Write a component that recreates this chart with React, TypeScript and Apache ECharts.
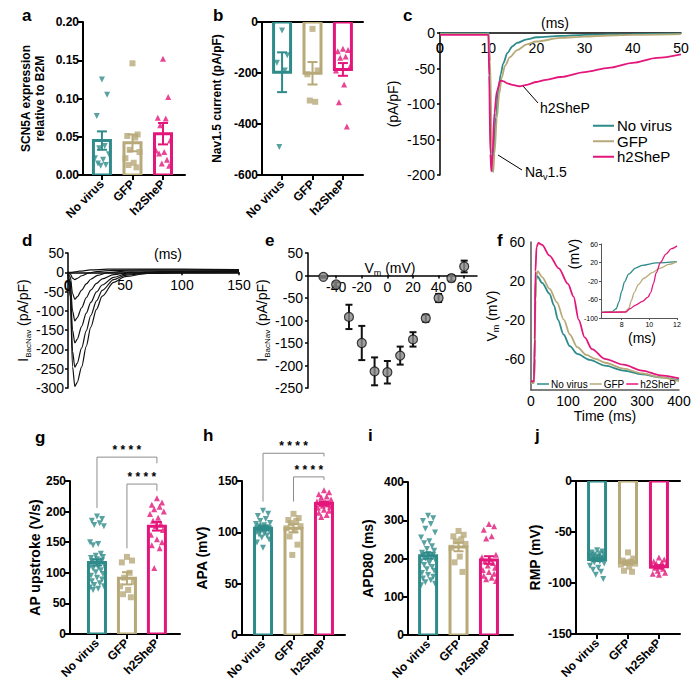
import React, { useEffect, useRef } from "react";
import * as echarts from "echarts";

const GROUPS = ["No virus", "GFP", "h2SheP"];
const COLORS = ["#2e8b89", "#b8a979", "#e3177b"];
const SYMBOLS = ["triangle", "rect", "triangle"];
const SYMBOL_ROTATE = [180, 0, 0];
const FONT = "'Liberation Sans', Arial, Helvetica, sans-serif";
const JITTER = [0, 0.17, -0.17, 0.09, -0.09, 0.23, -0.23, 0.04, -0.13, 0.13, -0.04, 0.2, -0.2];

// ---- panel a: SCN5A expression relative to B2M
const A_NOVIRUS = [0.125, 0.105, 0.077, 0.038, 0.035, 0.027, 0.022, 0.02, 0.015, 0.013, 0.012];
const A_GFP = [0.146, 0.053, 0.051, 0.049, 0.033, 0.03, 0.022, 0.016, 0.013, 0.01];
const A_H2SHEP = [0.152, 0.102, 0.075, 0.074, 0.065, 0.045, 0.032, 0.03, 0.028, 0.02, 0.015, 0.012];
const A_MEAN = [0.045, 0.042, 0.054];
const A_SEM = [0.012, 0.011, 0.014];

// ---- panel b: Nav1.5 current (pA/pF)
const B_NOVIRUS = [-33, -130, -160, -190, -490];
const B_GFP = [-27, -190, -205, -313, -308];
const B_H2SHEP = [-105, -110, -115, -135, -140, -175, -190, -245, -315, -410];
const B_MEAN = [-197, -201, -186];
const B_SEM = [78, 44, 25];

// ---- panel c: current traces (time ms, pA/pF)
const C_NOVIRUS = [[0, -0.5], [9.9, -0.5], [10.05, 3], [10.25, -40], [10.55, -170], [10.85, -195], [11.1, -170], [11.6, -118], [12.1, -80], [12.6, -58], [13.1, -43], [14, -28], [15, -19], [16, -14], [18, -9], [20, -6], [25, -4], [30, -2.5], [40, -1.5], [50, -1]];
const C_GFP = [[0, -1.5], [10.1, -1.5], [10.4, -40], [10.75, -160], [11.05, -196], [11.3, -170], [11.8, -120], [12.3, -85], [12.8, -63], [13.5, -46], [14.5, -34], [16, -24], [18, -16], [20, -12], [25, -7], [30, -5], [35, -3.5], [40, -2.5], [50, -1.5]];
const C_H2SHEP = [[0, -2.5], [10.05, -2.5], [10.2, -60], [10.45, -170], [10.65, -195], [10.9, -170], [11.3, -112], [11.8, -82], [12.5, -67], [13.2, -68], [14, -71], [15, -73], [16.5, -75], [18, -73], [20, -69], [22, -66], [25, -62], [30, -55], [35, -49], [40, -42], [45, -35], [50, -30]];
const C_XTICKS = [0, 10, 20, 30, 40, 50];

// ---- panel d: BacNav current family (time ms, pA/pF)
const D_TRACES = [
  [[0, 0], [3, 0], [6, 1], [10, 3], [20, 6], [35, 8], [60, 8], [100, 8], [150, 7]],
  [[0, 0], [2, -4], [4, -15], [6, -19], [8, -16], [12, -9], [18, -2], [25, 2], [40, 5], [70, 6], [100, 6], [150, 5]],
  [[0, 0], [2, -12], [4, -55], [6, -70], [8, -64], [12, -46], [16, -30], [20, -18], [26, -8], [35, -1], [50, 3], [80, 4], [150, 4]],
  [[0, 0], [2, -25], [4, -100], [6, -126], [8, -118], [12, -92], [16, -66], [20, -46], [25, -29], [30, -17], [40, -6], [55, 0], [80, 2], [150, 2]],
  [[0, 0], [2, -40], [4, -150], [6, -183], [8, -174], [12, -140], [16, -106], [20, -78], [25, -51], [30, -33], [40, -13], [50, -5], [70, 0], [150, 1]],
  [[0, 0], [2, -55], [4, -205], [6, -246], [8, -236], [12, -196], [16, -152], [20, -112], [25, -74], [30, -47], [40, -19], [50, -8], [70, -2], [100, 0], [150, 0]],
  [[0, 0], [2, -65], [4, -245], [6, -296], [8, -286], [12, -245], [16, -192], [20, -142], [25, -96], [30, -62], [40, -26], [50, -11], [70, -3], [100, -1], [150, 0]],
];
const D_XTICKS = [0, 50, 100, 150];

// ---- panel e: I-V relation
const E_VM = [-50, -40, -30, -20, -10, 0, 10, 20, 30, 40, 50, 60];
const E_MEAN = [-3, -20, -92, -150, -213, -215, -178, -142, -95, -50, -6, 20];
const E_SEM = [2, 5, 27, 38, 31, 25, 20, 16, 8, 9, 7, 13];
const E_TICKS = [-60, -40, -20, 0, 20, 40, 60];

// ---- panel f: action potentials (time ms, mV)
const F_NOVIRUS = [[0, -84], [8, -84], [10, -60], [11.5, 0], [13, 20], [17, 25], [30, 18], [50, 7], [62, -5], [73, -20], [88, -35], [105, -47], [125, -55], [159, -61], [200, -67], [250, -72], [300, -76], [350, -79], [400, -82]];
const F_GFP = [[0, -85], [8, -85], [10, -60], [12, 0], [14, 25], [18, 30], [30, 24], [50, 12], [70, -2], [89, -20], [105, -35], [125, -48], [150, -56], [174, -60], [200, -64], [250, -70], [300, -75], [350, -79], [400, -83]];
const F_H2SHEP = [[0, -83], [8, -83], [10, -40], [12, 30], [15, 55], [20, 59], [30, 57], [50, 46], [75, 33], [100, 17], [115, 4], [129, -20], [145, -38], [165, -50], [199, -60], [250, -66], [300, -72], [350, -77], [400, -80]];
const F_TICKS = [-60, -20, 20, 60];
// inset (time ms, mV)
const FI_NOVIRUS = [[6.5, -88], [7.3, -86], [7.6, -80], [7.8, -65], [8.0, -42], [8.2, -22], [8.5, -5], [9, 8], [9.5, 14], [10.5, 19], [12, 22]];
const FI_GFP = [[6.5, -88], [8.2, -87], [8.5, -80], [8.7, -62], [8.9, -45], [9.2, -28], [9.6, -14], [10.2, -2], [10.8, 8], [11.4, 16], [12, 22]];
const FI_H2SHEP = [[6.5, -88], [8.3, -87], [8.6, -80], [9.0, -72], [9.5, -64], [9.9, -55], [10.1, -45], [10.3, -25], [10.5, -2], [10.8, 20], [11.2, 38], [11.6, 50], [12, 56]];
const FI_XTICKS = [8, 10, 12];
const FI_YTICKS = [-100, -60, -20, 20, 60];

// ---- panel g: AP upstroke (V/s)
const G_NOVIRUS = [192, 188, 185, 181, 178, 176, 150, 147, 145, 131, 128, 126, 124, 122, 120, 119, 117, 115, 113, 111, 109, 107, 104, 101, 98, 95, 92, 89, 86, 83, 80, 78, 76, 74, 72];
const G_GFP = [126, 120, 117, 100, 92, 85, 78, 72, 65, 60];
const G_H2SHEP = [222, 215, 211, 208, 204, 200, 196, 190, 185, 180, 176, 170, 162, 155, 150, 145, 140, 108];
const G_MEAN = [117, 91, 176];
const G_SEM = [5, 10, 7];
// comparisons: [group1, group2, bracket level, left end, right end]
const G_SIG = [[0, 2, 289, 206, 279], [1, 2, 245, 140, 234]];

// ---- panel h: APA (mV)
const H_NOVIRUS = [121, 118, 116, 113, 111, 109, 108, 107, 106, 105, 105, 104, 104, 103, 103, 102, 102, 101, 100, 100, 99, 98, 97, 95, 93, 90, 85];
const H_GFP = [118, 114, 112, 111, 109, 106, 104, 102, 96, 88, 78];
const H_H2SHEP = [141, 139, 137, 135, 134, 132, 130, 129, 128, 127, 126, 125, 124, 122, 121, 119, 117, 115];
const H_MEAN = [104, 104, 128];
const H_SEM = [2, 4, 2];
const H_SIG = [[0, 2, 177, 130, 174], [1, 2, 154, 130, 151]];

// ---- panel i: APD80 (ms)
const I_NOVIRUS = [312, 305, 298, 290, 278, 268, 255, 245, 240, 232, 225, 220, 215, 212, 210, 207, 204, 200, 197, 193, 188, 183, 178, 172, 168, 162, 157, 152, 148, 143, 138, 134, 130];
const I_GFP = [272, 262, 258, 250, 245, 238, 228, 205, 190, 165];
const I_H2SHEP = [290, 284, 275, 258, 252, 210, 203, 198, 193, 188, 182, 176, 170, 165, 160, 155, 150, 146, 141];
const I_MEAN = [207, 230, 196];
const I_SEM = [8, 11, 10];

// ---- panel j: RMP (mV)
const J_NOVIRUS = [-68, -69, -70, -71, -72, -72, -73, -74, -74, -75, -75, -76, -76, -77, -77, -78, -79, -80, -81, -83, -85, -87, -89, -92, -96];
const J_GFP = [-70, -76, -78, -79, -80, -81, -82, -84, -88, -89];
const J_H2SHEP = [-75, -77, -79, -80, -81, -82, -83, -84, -85, -86, -88, -90, -91, -92];
const J_MEAN = [-77, -80, -84];
const J_SEM = [1.5, 2, 1.5];

function buildOption() {
  const grid: any[] = [];
  const xAxis: any[] = [];
  const yAxis: any[] = [];
  const series: any[] = [];
  const elements: any[] = [];

  const black = { color: "#000", width: 2 };

  // hollow bar from 0 to the mean, drawn through the axes' own scales
  const barRender = (halfW: number, lw: number) => (params: any, api: any) => {
    const x = api.value(0), m = api.value(1), g = api.value(2);
    const p0 = api.coord([x, 0]);
    const p1 = api.coord([x, m]);
    return {
      type: "rect",
      shape: { x: p0[0] - halfW, y: Math.min(p0[1], p1[1]), width: halfW * 2, height: Math.abs(p1[1] - p0[1]) },
      style: { fill: "none", stroke: COLORS[g], lineWidth: lw },
    };
  };

  const errRender = (cap: number, lw: number, colorOf: (g: number) => string) => (params: any, api: any) => {
    const x = api.value(0), lo = api.value(1), hi = api.value(2), g = api.value(3);
    const p1 = api.coord([x, lo]);
    const p2 = api.coord([x, hi]);
    const st = { stroke: colorOf(g), lineWidth: lw };
    return {
      type: "group",
      children: [
        { type: "line", shape: { x1: p1[0], y1: p1[1], x2: p2[0], y2: p2[1] }, style: st },
        { type: "line", shape: { x1: p1[0] - cap, y1: p1[1], x2: p1[0] + cap, y2: p1[1] }, style: st },
        { type: "line", shape: { x1: p2[0] - cap, y1: p2[1], x2: p2[0] + cap, y2: p2[1] }, style: st },
      ],
    };
  };

  const bracketRender = (params: any, api: any) => {
    const x1 = api.value(0), x2 = api.value(1), yh = api.value(2), yl = api.value(3), yr = api.value(4);
    const a = api.coord([x1, yl]), b = api.coord([x1, yh]), c = api.coord([x2, yh]), d = api.coord([x2, yr]);
    return {
      type: "group",
      children: [
        { type: "polyline", shape: { points: [a, b, c, d] }, style: { stroke: "#8c8c8c", lineWidth: 1, fill: "none" } },
        {
          type: "text", x: (b[0] + c[0]) / 2, y: b[1] - 1,
          style: { text: "* * * *", fill: "#000", fontSize: 12, fontWeight: "bold", fontFamily: FONT, align: "center", verticalAlign: "bottom" },
        },
      ],
    };
  };

  function barPanel(o: any) {
    const gi = grid.length;
    grid.push({ left: o.left, top: o.top, width: o.width, height: o.height });
    const xi = xAxis.length;
    xAxis.push({
      type: "value", gridIndex: gi, min: o.xMin, max: o.xMax, position: "bottom",
      axisLine: { show: true, onZero: false, lineStyle: black },
      axisTick: { show: true, customValues: [0, 1, 2], length: 5, lineStyle: black },
      axisLabel: {
        show: true, customValues: [0, 1, 2], formatter: (v: number) => GROUPS[Math.round(v)] || "",
        rotate: 45, margin: 7, color: "#000", fontWeight: "bold", fontSize: 12, fontFamily: FONT,
      },
      splitLine: { show: false },
    });
    if (o.topLine) {
      xAxis.push({
        type: "value", gridIndex: gi, min: o.xMin, max: o.xMax, position: "top",
        axisLine: { show: true, onZero: false, lineStyle: black },
        axisTick: { show: false }, axisLabel: { show: false }, splitLine: { show: false },
      });
    }
    const yi = yAxis.length;
    yAxis.push({
      type: "value", gridIndex: gi, min: o.yMin, max: o.yMax, interval: o.yInterval,
      axisLine: { show: true, onZero: false, lineStyle: black },
      axisTick: { show: true, length: 5, lineStyle: black },
      axisLabel: { color: "#000", fontWeight: "bold", fontSize: 12, fontFamily: FONT, margin: 4, formatter: o.yFmt },
      splitLine: { show: false },
      name: o.yName, nameLocation: "middle", nameGap: o.yNameGap,
      nameTextStyle: { color: "#000", fontWeight: "bold", fontSize: o.nameSize || 13, fontFamily: FONT, lineHeight: 14 },
    });
    series.push({
      type: "custom", xAxisIndex: xi, yAxisIndex: yi, silent: true, z: 2, clip: true,
      itemStyle: { color: "#000" },
      data: o.means.map((m: number, i: number) => [i, m, i]),
      encode: { x: 0, y: 1 },
      renderItem: barRender(8.5, 3),
    });
    o.points.forEach((pts: number[], g: number) => {
      series.push({
        type: "scatter", xAxisIndex: xi, yAxisIndex: yi, silent: true, z: 3, clip: true,
        symbol: SYMBOLS[g], symbolRotate: SYMBOL_ROTATE[g], symbolSize: o.symSize || 6,
        color: COLORS[g], itemStyle: { color: COLORS[g] },
        data: pts.map((v, k) => [g + JITTER[k % JITTER.length], v]),
      });
    });
    series.push({
      type: "custom", xAxisIndex: xi, yAxisIndex: yi, silent: true, z: 4, clip: true,
      itemStyle: { color: "#000" },
      data: o.means.map((m: number, i: number) => [i, m - o.sems[i], m + o.sems[i], i]),
      encode: { x: 0, y: [1, 2] },
      renderItem: errRender(5, 2, (g) => COLORS[g]),
    });
    if (o.sig) {
      series.push({
        type: "custom", xAxisIndex: xi, yAxisIndex: yi, silent: true, z: 5, clip: false,
        itemStyle: { color: "#000" },
        data: o.sig, encode: { x: [0, 1], y: [2] },
        renderItem: bracketRender,
      });
    }
  }

  // ---------- a
  barPanel({
    left: 83, top: 22, width: 102, height: 153, xMin: -0.62, xMax: 2.72,
    yMin: 0, yMax: 0.2, yInterval: 0.05, yFmt: (v: number) => v.toFixed(2),
    yName: "SCN5A expression\nrelative to B2M", yNameGap: 36, nameSize: 12,
    points: [A_NOVIRUS, A_GFP, A_H2SHEP], means: A_MEAN, sems: A_SEM,
  });
  // ---------- b
  barPanel({
    left: 262, top: 22, width: 101, height: 153, xMin: -0.66, xMax: 2.66,
    yMin: -600, yMax: 0, yInterval: 200, topLine: true,
    yName: "Nav1.5 current (pA/pF)", yNameGap: 38, nameSize: 12,
    points: [B_NOVIRUS, B_GFP, B_H2SHEP], means: B_MEAN, sems: B_SEM,
  });
  // ---------- g
  barPanel({
    left: 70, top: 481, width: 110, height: 153, xMin: -0.9, xMax: 2.77,
    yMin: 0, yMax: 250, yInterval: 50, yName: "AP upstroke (V/s)", yNameGap: 25, nameSize: 14,
    points: [G_NOVIRUS, G_GFP, G_H2SHEP], means: G_MEAN, sems: G_SEM, sig: G_SIG,
  });
  // ---------- h
  barPanel({
    left: 242, top: 481, width: 103, height: 154, xMin: -0.69, xMax: 2.69,
    yMin: 0, yMax: 150, yInterval: 50, yName: "APA (mV)", yNameGap: 33, nameSize: 14,
    points: [H_NOVIRUS, H_GFP, H_H2SHEP], means: H_MEAN, sems: H_SEM, sig: H_SIG,
  });
  // ---------- i
  barPanel({
    left: 408, top: 482, width: 105, height: 153, xMin: -0.66, xMax: 2.79,
    yMin: 0, yMax: 400, yInterval: 100, yName: "APD80 (ms)", yNameGap: 33, nameSize: 14,
    points: [I_NOVIRUS, I_GFP, I_H2SHEP], means: I_MEAN, sems: I_SEM,
  });
  // ---------- j
  barPanel({
    left: 576, top: 481, width: 104, height: 153, xMin: -0.68, xMax: 2.68,
    yMin: -150, yMax: 0, yInterval: 50, topLine: true, yName: "RMP (mV)", yNameGap: 34, nameSize: 14,
    points: [J_NOVIRUS, J_GFP, J_H2SHEP], means: J_MEAN, sems: J_SEM,
  });

  const thin = { color: "#000", width: 1.5 };
  const lbl = (size: number) => ({ color: "#000", fontSize: size, fontFamily: FONT });
  // distance (px, negative = upwards) that puts a bottom x axis on the y = 0 line
  const zeroOffset = (yMin: number, yMax: number, h: number) => -((0 - yMin) / (yMax - yMin)) * h;
  const subRich = (subSize: number) => ({
    a: { fontSize: 14, fontFamily: FONT, color: "#000", fill: "#000", lineHeight: 18, verticalAlign: "middle" },
    b: { fontSize: subSize, fontFamily: FONT, color: "#000", fill: "#000", lineHeight: 10, verticalAlign: "bottom" },
  });

  // ---------- c
  {
    const gi = grid.length;
    const h = 142;
    grid.push({ left: 440, top: 33, width: 241, height: h });
    const xi = xAxis.length;
    xAxis.push({
      type: "value", gridIndex: gi, min: 0, max: 50, position: "bottom",
      offset: zeroOffset(-200, 0, h),
      axisLine: { show: true, onZero: false, lineStyle: thin },
      axisTick: { show: false },
      axisLabel: { ...lbl(14), margin: 8, customValues: C_XTICKS, showMinLabel: true }, splitLine: { show: false },
    });
    const yi = yAxis.length;
    yAxis.push({
      type: "value", gridIndex: gi, min: -200, max: 0, interval: 50,
      axisLine: { show: true, onZero: false, lineStyle: thin },
      axisTick: { show: true, length: 3, lineStyle: thin },
      axisLabel: { ...lbl(14), margin: 5 }, splitLine: { show: false },
      name: "(pA/pF)", nameLocation: "middle", nameGap: 40, nameTextStyle: lbl(14),
    });
    [C_NOVIRUS, C_GFP, C_H2SHEP].forEach((d, g) => {
      series.push({
        type: "line", name: GROUPS[g], xAxisIndex: xi, yAxisIndex: yi, data: d, symbol: "none",
        smooth: 0.3, smoothMonotone: "x", silent: true, clip: true, z: g === 2 ? 4 : 3,
        color: COLORS[g], lineStyle: { color: COLORS[g], width: 1.8 }, itemStyle: { color: COLORS[g] },
      });
    });
  }

  // ---------- d
  {
    const gi = grid.length;
    const h = 135;
    grid.push({ left: 68, top: 253, width: 171, height: h });
    const xi = xAxis.length;
    xAxis.push({
      type: "value", gridIndex: gi, min: 0, max: 150, position: "bottom",
      offset: zeroOffset(-300, 50, h),
      axisLine: { show: true, onZero: false, lineStyle: thin },
      axisTick: { show: true, length: 3, customValues: D_XTICKS, lineStyle: thin },
      axisLabel: { ...lbl(14), margin: 6, customValues: D_XTICKS, showMinLabel: true }, splitLine: { show: false },
    });
    const yi = yAxis.length;
    yAxis.push({
      type: "value", gridIndex: gi, min: -300, max: 50, interval: 50,
      axisLine: { show: true, onZero: false, lineStyle: thin },
      axisTick: { show: true, length: 3, lineStyle: thin },
      axisLabel: { ...lbl(14), margin: 4 }, splitLine: { show: false },
      name: "{a|I}{b|BacNav}{a| (pA/pF)}", nameLocation: "middle", nameGap: 36,
      nameTextStyle: { ...lbl(14), rich: subRich(8) },
    });
    D_TRACES.forEach((d) => {
      series.push({
        type: "line", xAxisIndex: xi, yAxisIndex: yi, data: d, symbol: "none", silent: true, clip: true,
        smooth: 0.3, smoothMonotone: "x", color: "#111",
        lineStyle: { color: "#111", width: 1.2 }, itemStyle: { color: "#111" },
      });
    });
  }

  // ---------- e
  {
    const gi = grid.length;
    const h = 135;
    grid.push({ left: 308, top: 253, width: 169, height: h });
    const xi = xAxis.length;
    xAxis.push({
      type: "value", gridIndex: gi, min: -62, max: 70, position: "bottom",
      offset: zeroOffset(-250, 50, h),
      axisLine: { show: true, onZero: false, lineStyle: thin },
      axisTick: { show: true, length: 3, customValues: E_TICKS, lineStyle: thin },
      axisLabel: { ...lbl(14), margin: 4, customValues: E_TICKS, alignMinLabel: "left" }, splitLine: { show: false },
    });
    const yi = yAxis.length;
    yAxis.push({
      type: "value", gridIndex: gi, min: -250, max: 50, interval: 50,
      axisLine: { show: true, onZero: false, lineStyle: thin },
      axisTick: { show: true, length: 3, lineStyle: thin },
      axisLabel: { ...lbl(14), margin: 5 }, splitLine: { show: false },
      name: "{a|I}{b|BacNav}{a| (pA/pF)}", nameLocation: "middle", nameGap: 36,
      nameTextStyle: { ...lbl(14), rich: subRich(8) },
    });
    series.push({
      type: "custom", xAxisIndex: xi, yAxisIndex: yi, silent: true, z: 3, clip: true,
      itemStyle: { color: "#000" },
      data: E_VM.map((v, i) => [v, E_MEAN[i] - E_SEM[i], E_MEAN[i] + E_SEM[i], 0]),
      encode: { x: 0, y: [1, 2] },
      renderItem: errRender(3.5, 2, () => "#111"),
    });
    series.push({
      type: "scatter", xAxisIndex: xi, yAxisIndex: yi, silent: true, z: 4, symbol: "circle", symbolSize: 9,
      color: "#8a8a8a", itemStyle: { color: "#8a8a8a", borderColor: "#111", borderWidth: 1.2 },
      data: E_VM.map((v, i) => [v, E_MEAN[i]]),
    });
  }

  // ---------- f
  {
    const gi = grid.length;
    grid.push({ left: 531, top: 242, width: 148, height: 148 });
    const xi = xAxis.length;
    xAxis.push({
      type: "value", gridIndex: gi, min: 0, max: 400, interval: 100,
      axisLine: { show: true, onZero: false, lineStyle: { color: "#555", width: 1.5 } },
      axisTick: { show: false },
      axisLabel: { ...lbl(14), margin: 4 }, splitLine: { show: false },
      name: "Time (ms)", nameLocation: "middle", nameGap: 16, nameTextStyle: { ...lbl(14), lineHeight: 14 },
    });
    const yi = yAxis.length;
    yAxis.push({
      type: "value", gridIndex: gi, min: -92, max: 60,
      axisLine: { show: true, onZero: false, lineStyle: { color: "#555", width: 1.5 } },
      axisTick: { show: false },
      axisLabel: { ...lbl(14), margin: 6, customValues: F_TICKS }, splitLine: { show: false },
      name: "{a|V}{b|m}{a| (mV)}", nameLocation: "middle", nameGap: 26,
      nameTextStyle: { ...lbl(14), rich: subRich(9) },
    });
    [F_NOVIRUS, F_GFP, F_H2SHEP].forEach((d, g) => {
      series.push({
        type: "line", name: GROUPS[g], xAxisIndex: xi, yAxisIndex: yi, data: d, symbol: "none",
        smooth: 0.3, smoothMonotone: "x", silent: true, clip: true,
        color: COLORS[g], lineStyle: { color: COLORS[g], width: 1.8 }, itemStyle: { color: COLORS[g] },
      });
    });
    // inset
    const gi2 = grid.length;
    grid.push({ left: 601, top: 244, width: 76, height: 74 });
    const xi2 = xAxis.length;
    xAxis.push({
      type: "value", gridIndex: gi2, min: 6.5, max: 12,
      axisLine: { show: true, onZero: false, lineStyle: { color: "#555", width: 1 } },
      axisTick: { show: true, length: 2, customValues: FI_XTICKS, lineStyle: { color: "#555", width: 1 } },
      axisLabel: { ...lbl(7), margin: 3, customValues: FI_XTICKS }, splitLine: { show: false },
      name: "(ms)", nameLocation: "middle", nameGap: 13, nameTextStyle: { ...lbl(14), lineHeight: 14, padding: [0, 0, 0, 6] },
    });
    const yi2 = yAxis.length;
    yAxis.push({
      type: "value", gridIndex: gi2, min: -100, max: 60,
      axisLine: { show: true, onZero: false, lineStyle: { color: "#555", width: 1 } },
      axisTick: { show: true, length: 2, customValues: FI_YTICKS, lineStyle: { color: "#555", width: 1 } },
      axisLabel: { ...lbl(7), margin: 3, customValues: FI_YTICKS }, splitLine: { show: false },
    });
    [FI_NOVIRUS, FI_GFP, FI_H2SHEP].forEach((d, g) => {
      series.push({
        type: "line", xAxisIndex: xi2, yAxisIndex: yi2, data: d, symbol: "none",
        smooth: 0.3, smoothMonotone: "x", silent: true, clip: true,
        color: COLORS[g], lineStyle: { color: COLORS[g], width: 1.3 },
      });
    });
  }

  // ---------- texts / annotations
  const txt = (text: string, x: number, y: number, size: number, bold = false, align = "left", valign = "bottom", extra: any = {}, rotation = 0) => ({
    type: "text", x, y, rotation, silent: true,
    style: {
      text, fill: "#000", fontSize: size, fontWeight: bold ? "bold" : "normal", fontFamily: FONT,
      align, verticalAlign: valign, textAlign: align, textVerticalAlign: valign, ...extra,
    },
  });
  const letters: [string, number, number][] = [
    ["a", 22, 24], ["b", 213, 24], ["c", 403, 24], ["d", 22, 249], ["e", 265, 249], ["f", 497, 249],
    ["g", 35, 446], ["h", 203, 444], ["i", 368, 444], ["j", 535, 444],
  ];
  letters.forEach(([t, x, y]) => elements.push(txt(t, x, y, 17, true)));

  // origin tick labels of c and d, which sit on the y-axis line
  elements.push(txt("0", 440, 48, 14, false, "center", "middle"));
  elements.push(txt("0", 68, 286, 14, false, "center", "middle"));

  elements.push(txt("(ms)", 555, 23, 14, false, "center", "middle"));
  elements.push(txt("(ms)", 168, 254, 14, false, "center", "middle"));
  elements.push(txt("(mV)", 574, 254, 14, false, "center", "middle", {}, Math.PI / 2));
  elements.push(txt("{a|V}{b|m}{a| (mV)}", 390, 268, 14, false, "center", "middle", { rich: subRich(9) }));
  elements.push(txt("h2SheP", 540, 108, 14, false, "left", "middle"));
  elements.push({ type: "line", silent: true, shape: { x1: 523, y1: 86, x2: 538, y2: 103 }, style: { stroke: "#000", lineWidth: 1 } });
  elements.push(txt("{a|Na}{b|v}{a|1.5}", 525, 172, 14, false, "left", "middle", { rich: subRich(9) }));
  elements.push({ type: "line", silent: true, shape: { x1: 498, y1: 155, x2: 522, y2: 170 }, style: { stroke: "#000", lineWidth: 1 } });

  return {
    animation: false,
    backgroundColor: "#fff",
    // every series sets its own colours; the default palette is made invisible
    color: ["rgba(0,0,0,0)"],
    textStyle: { fontFamily: FONT },
    grid, xAxis, yAxis, series,
    legend: [
      {
        data: GROUPS, orient: "vertical", left: 593, top: 118, padding: 0, icon: "rect", itemWidth: 21, itemHeight: 2, itemGap: 0,
        selectedMode: false, textStyle: { ...lbl(15), padding: [0, 0, 0, -2], lineHeight: 15.5 },
      },
      {
        data: GROUPS, orient: "horizontal", left: 537, top: 379, padding: 0, icon: "rect", itemWidth: 12, itemHeight: 1.5, itemGap: 2,
        selectedMode: false, textStyle: { ...lbl(10), padding: [0, 0, 0, -3] },
      },
    ],
    graphic: { elements },
  };
}

export default function App() {
  const ref = useRef<HTMLDivElement>(null);
  useEffect(() => {
    if (!ref.current) return;
    const chart = echarts.init(ref.current, undefined, { renderer: "svg" });
    chart.setOption(buildOption() as any);
    return () => chart.dispose();
  }, []);
  return (
    <div
      ref={ref}
      style={{ position: "absolute", left: 0, top: 0, width: 700, height: 695, background: "#fff" }}
    />
  );
}
